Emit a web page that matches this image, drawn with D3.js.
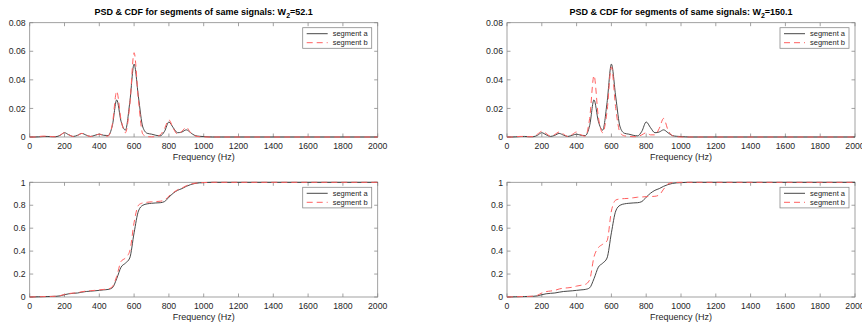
<!DOCTYPE html>
<html>
<head>
<meta charset="utf-8">
<script src="https://cdn.jsdelivr.net/npm/d3@7"></script>
<style>
  body { margin: 0; background: #fff; }
  text { font-family: "Liberation Sans", Arial, sans-serif; }
</style>
</head>
<body>
<svg id="chart" width="862" height="325"></svg>
<script>
// frequency grid (Hz)
var freq = [0,25,50,75,100,125,150,175,200,225,250,275,300,325,350,375,400,425,450,475,
  500,525,550,575,600,625,650,675,700,725,750,775,800,825,850,875,900,925,950,975,
  1000,1025,1050,1075,1100,2000];

// PSD, segment a (same in both plots)
var psdA = [0,0,0.0001,0.0003,0.0004,0.0002,0.0002,0.0012,0.003,0.0015,0.0004,0.0012,0.0025,0.0013,0.0004,0.0012,0.002,0.0012,0.001,0.008,
  0.026,0.011,0.0048,0.024,0.051,0.028,0.007,0.0026,0.002,0.0012,0.0008,0.004,0.0105,0.0065,0.003,0.0035,0.005,0.003,0.001,0.0005,
  0.0003,0.0001,0,0,0,0];
// PSD, segment b, W2=52.1
var psdB1 = [0,0,0.0003,0.0006,0.0006,0.0003,0.0001,0.0013,0.003,0.0016,0.0003,0.0011,0.0025,0.0013,0.0003,0.001,0.002,0.001,0.0006,0.009,
  0.032,0.012,0.003,0.022,0.059,0.026,0.002,0.0003,0.0001,0.0003,0.0015,0.006,0.012,0.006,0.002,0.004,0.0068,0.003,0.0008,0.0002,
  0.0001,0,0,0,0,0];
// PSD, segment b, W2=150.1
var psdB2 = [0,0,0.0002,0.0004,0.0004,0.0002,0.0003,0.002,0.004,0.0025,0.0005,0.0018,0.0035,0.002,0.0003,0.0018,0.0035,0.0015,0.0005,0.013,
  0.043,0.014,0.003,0.018,0.049,0.02,0.003,0.0008,0.0005,0.0002,0.0003,0.0015,0.003,0.0015,0.0015,0.006,0.013,0.005,0.001,0.0002,
  0,0,0,0,0,0];

// CDF, segment a
var cdfA = [0,0.001,0.002,0.003,0.004,0.005,0.006,0.01,0.02,0.028,0.032,0.035,0.042,0.048,0.051,0.054,0.058,0.062,0.066,0.08,
  0.16,0.26,0.295,0.34,0.56,0.75,0.80,0.812,0.817,0.82,0.822,0.832,0.87,0.905,0.93,0.945,0.965,0.98,0.99,0.995,
  0.997,0.999,1,1,1,1];
// CDF, segment b, W2=52.1
var cdfB1 = [0,0.001,0.002,0.003,0.004,0.005,0.007,0.012,0.022,0.03,0.034,0.038,0.046,0.052,0.055,0.058,0.062,0.066,0.07,0.09,
  0.18,0.31,0.34,0.40,0.65,0.80,0.82,0.826,0.83,0.832,0.835,0.845,0.88,0.91,0.935,0.95,0.97,0.984,0.992,0.996,
  0.998,0.999,1,1,1,1];
// CDF, segment b, W2=150.1
var cdfB2 = [0,0.001,0.002,0.003,0.004,0.005,0.007,0.015,0.035,0.047,0.052,0.058,0.07,0.077,0.08,0.085,0.095,0.102,0.11,0.15,
  0.35,0.43,0.46,0.49,0.75,0.845,0.855,0.858,0.86,0.865,0.87,0.872,0.875,0.876,0.878,0.89,0.94,0.985,0.998,0.999,
  1,1,1,1,1,1];

var xTicks = [0,200,400,600,800,1000,1200,1400,1600,1800,2000];
var psdTicks = [0,0.02,0.04,0.06,0.08];
var cdfTicks = [0,0.2,0.4,0.6,0.8,1];
var titles = ["PSD & CDF for segments of same signals: W", "PSD & CDF for segments of same signals: W"];
var wValues = ["=52.1", "=150.1"];
var legendNames = ["segment a", "segment b"];

var svg = d3.select("#chart");

var cols = [{x0: 29.7, x1: 377.7}, {x0: 507, x1: 855}];
var rows = [{y0: 22.7, y1: 137}, {y0: 182.3, y1: 297}];

var panels = [
  {col: 0, row: 0, a: psdA, b: psdB1, dom: [0, 0.08], ticks: psdTicks, title: 0},
  {col: 1, row: 0, a: psdA, b: psdB2, dom: [0, 0.08], ticks: psdTicks, title: 1},
  {col: 0, row: 1, a: cdfA, b: cdfB1, dom: [0, 1], ticks: cdfTicks},
  {col: 1, row: 1, a: cdfA, b: cdfB2, dom: [0, 1], ticks: cdfTicks}
];

var axisColor = "#262626";
var boxColor = "#8a8a8a";

panels.forEach(function(p) {
  var c = cols[p.col], r = rows[p.row];
  var x = d3.scaleLinear().domain([0, 2000]).range([c.x0, c.x1]);
  var y = d3.scaleLinear().domain(p.dom).range([r.y1, r.y0]);
  var g = svg.append("g");

  // box
  g.append("rect")
    .attr("x", c.x0).attr("y", r.y0)
    .attr("width", c.x1 - c.x0).attr("height", r.y1 - r.y0)
    .attr("fill", "none").attr("stroke", boxColor).attr("stroke-width", 0.8);

  // ticks inside, all four sides
  xTicks.forEach(function(t) {
    g.append("line").attr("x1", x(t)).attr("x2", x(t)).attr("y1", r.y1).attr("y2", r.y1 - 3.5)
      .attr("stroke", boxColor).attr("stroke-width", 0.8);
    g.append("line").attr("x1", x(t)).attr("x2", x(t)).attr("y1", r.y0).attr("y2", r.y0 + 3.5)
      .attr("stroke", boxColor).attr("stroke-width", 0.8);
    g.append("text").attr("x", x(t)).attr("y", r.y1 + 11.5)
      .attr("text-anchor", "middle").attr("font-size", 8.7).attr("fill", axisColor)
      .text(t);
  });
  p.ticks.forEach(function(t) {
    g.append("line").attr("x1", c.x0).attr("x2", c.x0 + 3.5).attr("y1", y(t)).attr("y2", y(t))
      .attr("stroke", boxColor).attr("stroke-width", 0.8);
    g.append("line").attr("x1", c.x1).attr("x2", c.x1 - 3.5).attr("y1", y(t)).attr("y2", y(t))
      .attr("stroke", boxColor).attr("stroke-width", 0.8);
    g.append("text").attr("x", c.x0 - 4).attr("y", y(t) + 3.2)
      .attr("text-anchor", "end").attr("font-size", 8.7).attr("fill", axisColor)
      .text(t);
  });

  // x label
  g.append("text").attr("x", (c.x0 + c.x1) / 2).attr("y", r.y1 + 22.5)
    .attr("text-anchor", "middle").attr("font-size", 9).attr("fill", axisColor)
    .text("Frequency (Hz)");

  // title
  if (p.title !== undefined) {
    var tt = g.append("text").attr("x", (c.x0 + c.x1) / 2).attr("y", 15)
      .attr("text-anchor", "middle").attr("font-size", 9).attr("font-weight", "bold").attr("fill", "#000");
    tt.append("tspan").text(titles[p.title]);
    tt.append("tspan").attr("dy", 2.5).attr("font-size", 7).text("2");
    tt.append("tspan").attr("dy", -2.5).text(wValues[p.title]);
  }

  var line = d3.line()
    .x(function(d, i) { return x(freq[i]); })
    .y(function(d) { return y(d); })
    .curve(d3.curveMonotoneX);

  g.append("path").datum(p.a).attr("d", line)
    .attr("fill", "none").attr("stroke", "#333").attr("stroke-width", 0.9);
  g.append("path").datum(p.b).attr("d", line)
    .attr("fill", "none").attr("stroke", "#ff6060").attr("stroke-width", 1)
    .attr("stroke-dasharray", "6,4");

  // legend
  var lx = c.x1 - 75, ly = r.y0 + 5;
  g.append("rect").attr("x", lx).attr("y", ly).attr("width", 69).attr("height", 20.6)
    .attr("fill", "#fff").attr("stroke", boxColor).attr("stroke-width", 0.8);
  g.append("line").attr("x1", lx + 4).attr("x2", lx + 25).attr("y1", ly + 6).attr("y2", ly + 6)
    .attr("stroke", "#333").attr("stroke-width", 0.9);
  g.append("line").attr("x1", lx + 4).attr("x2", lx + 25).attr("y1", ly + 15).attr("y2", ly + 15)
    .attr("stroke", "#ff6060").attr("stroke-width", 1).attr("stroke-dasharray", "6,4");
  legendNames.forEach(function(n, i) {
    g.append("text").attr("x", lx + 30).attr("y", ly + 8.7 + i * 9).attr("font-size", 7.5).attr("fill", axisColor)
      .text(n);
  });
});
</script>
</body>
</html>
